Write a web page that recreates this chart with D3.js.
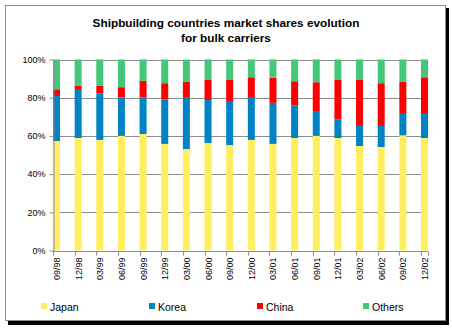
<!DOCTYPE html>
<html>
<head>
<meta charset="utf-8">
<title>bulk carriers market shares</title>
<script src="https://cdn.jsdelivr.net/npm/d3@7"></script>
<style>
  body { margin: 0; background: #fff; }
  text { font-family: Arial, "Liberation Sans", sans-serif; }
</style>
</head>
<body>
<script>
var width = 452, height = 328;

var quarters = ["09/98","12/98","03/99","06/99","09/99","12/99","03/00","06/00","09/00",
                "12/00","03/01","06/01","09/01","12/01","03/02","06/02","09/02","12/02"];
var series = ["Japan", "Korea", "China", "Others"];
var japan  = [57.3, 58.9, 57.9, 60.0, 61.0, 55.8, 53.1, 56.3, 55.2, 57.9, 55.8, 58.9, 60.0, 58.9, 54.7, 54.2, 60.3, 58.9];
var korea  = [23.6, 25.2, 24.4, 20.2, 19.2, 23.4, 26.8, 22.5, 22.6, 22.0, 21.5, 17.1, 12.6, 9.8, 10.5, 11.0, 11.7, 12.6];
var china  = [3.5, 2.1, 3.9, 5.3, 8.6, 8.4, 8.4, 10.5, 11.5, 10.8, 13.1, 12.6, 15.5, 20.6, 24.1, 22.4, 16.3, 19.2];
var others = [15.6, 13.8, 13.8, 14.5, 11.2, 12.4, 11.7, 10.7, 10.7, 9.3, 9.6, 11.4, 11.9, 10.7, 10.7, 12.4, 11.7, 9.3];
var yTicks = [0, 0.2, 0.4, 0.6, 0.8, 1];
var colors = ["#ffef5e", "#0083c5", "#ff0000", "#44c77a"];

var rows = quarters.map(function(q, i) {
  return { q: q, Japan: japan[i], Korea: korea[i], China: china[i], Others: others[i] };
});

var svg = d3.select("body").append("svg").attr("width", width).attr("height", height);

// frame with shadow
svg.append("rect").attr("x", 8).attr("y", 8).attr("width", 441).attr("height", 317).attr("fill", "#000");
svg.append("rect").attr("x", 5.5).attr("y", 5.5).attr("width", 440).attr("height", 315)
  .attr("fill", "#fff").attr("stroke", "#8c8c8c");

svg.append("text").attr("x", 226).attr("y", 27).attr("text-anchor", "middle")
  .attr("font-size", 11.8).attr("font-weight", "bold").text("Shipbuilding countries market shares evolution");
svg.append("text").attr("x", 226).attr("y", 42).attr("text-anchor", "middle")
  .attr("font-size", 11.8).attr("font-weight", "bold").text("for bulk carriers");

var plotLeft = 53, plotRight = 428, plotTop = 59.5, plotBottom = 250.5, barW = 7;

var x = d3.scalePoint().domain(quarters).range([plotLeft, plotRight - barW]);
var y = d3.scaleLinear().domain([0, 1]).range([plotBottom, plotTop]);

// gridlines
svg.append("g").selectAll("line").data(yTicks.slice(1)).enter().append("line")
  .attr("x1", plotLeft).attr("x2", plotRight).attr("y1", function(d) { return Math.round(y(d)) + 0.5; })
  .attr("y2", function(d) { return Math.round(y(d)) + 0.5; })
  .attr("stroke", "#8c8c8c");

var stack = d3.stack().keys(series).offset(d3.stackOffsetExpand);
var layers = stack(rows);

svg.append("g").selectAll("g").data(layers).enter().append("g")
  .attr("fill", function(d, i) { return colors[i]; })
  .selectAll("rect").data(function(d) { return d; }).enter().append("rect")
  .attr("x", function(d) { return x(d.data.q); })
  .attr("width", barW)
  .attr("y", function(d) { return y(d[1]); })
  .attr("height", function(d) { return y(d[0]) - y(d[1]); });

// y axis
var yAxis = svg.append("g").attr("transform", "translate(" + (plotLeft + 0.5) + ",0)")
  .call(d3.axisLeft(y).tickValues(yTicks).tickFormat(d3.format(".0%")).tickSize(4).tickSizeOuter(0));
yAxis.select(".domain").attr("stroke", "#8c8c8c");
yAxis.selectAll(".tick line").attr("stroke", "#8c8c8c");
yAxis.selectAll("text").attr("font-size", 9).attr("font-family", "Arial, 'Liberation Sans', sans-serif")
  .attr("fill", "#000").attr("x", -8);

// x axis
var xg = svg.append("g").attr("transform", "translate(0," + (Math.round(plotBottom) + 0.5) + ")");
xg.append("line").attr("x1", plotLeft).attr("x2", plotRight).attr("stroke", "#8c8c8c");
xg.selectAll("line.tk").data(quarters).enter().append("line")
  .attr("x1", function(d) { return Math.round(x(d)) + 0.5; })
  .attr("x2", function(d) { return Math.round(x(d)) + 0.5; })
  .attr("y1", 0).attr("y2", 4).attr("stroke", "#8c8c8c");
xg.append("line").attr("x1", plotRight + 0.5).attr("x2", plotRight + 0.5).attr("y1", 0).attr("y2", 4).attr("stroke", "#8c8c8c");
xg.selectAll("text").data(quarters).enter().append("text")
  .attr("transform", function(d) { return "translate(" + (x(d) + barW / 2 + 3.5) + ",6) rotate(-90)"; })
  .attr("text-anchor", "end").attr("font-size", 9).text(function(d) { return d; });

// legend
var legX = [41, 149, 257, 363];
var leg = svg.append("g").selectAll("g").data(series).enter().append("g")
  .attr("transform", function(d, i) { return "translate(" + legX[i] + ",303)"; });
leg.append("rect").attr("width", 6).attr("height", 6).attr("fill", function(d, i) { return colors[i]; });
leg.append("text").attr("x", 9).attr("y", 7.5).attr("font-size", 10.5).text(function(d) { return d; });
</script>
</body>
</html>
